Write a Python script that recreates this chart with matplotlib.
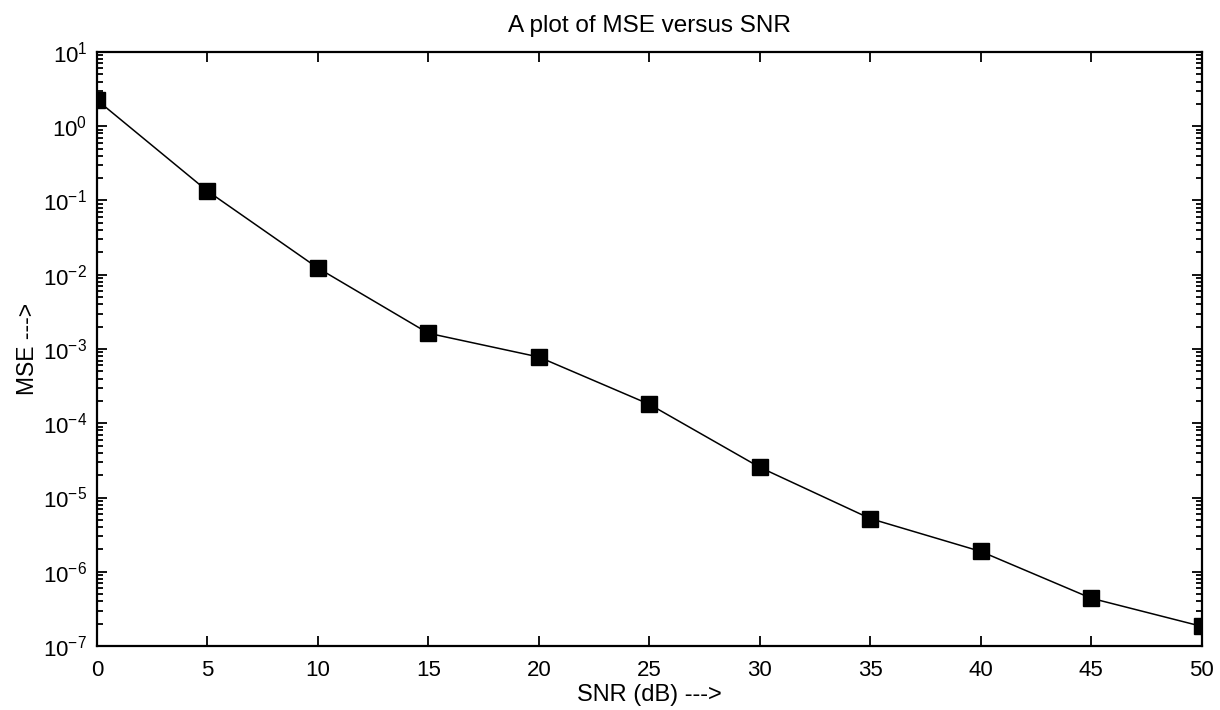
import numpy as np
import matplotlib
matplotlib.use("Agg")
import matplotlib.pyplot as plt

plt.rcParams['font.family'] = ['Liberation Sans', 'DejaVu Sans']
plt.rcParams['mathtext.fontset'] = 'custom'
plt.rcParams['mathtext.rm'] = 'Liberation Sans'
plt.rcParams['mathtext.it'] = 'Liberation Sans'

snr = [0, 5, 10, 15, 20, 25, 30, 35, 40, 45, 50]
mse = [2.25, 0.134, 0.0123, 1.63e-3, 7.8e-4, 1.8e-4, 2.55e-5, 5.2e-6, 1.88e-6, 4.4e-7, 1.84e-7]
xticks = [0, 5, 10, 15, 20, 25, 30, 35, 40, 45, 50]

fig = plt.figure(figsize=(12.2, 7.1), dpi=100)
ax = fig.add_axes([0.0795, 0.0901, 0.9055, 0.8367])

ax.semilogy(snr, mse, color='black', lw=1.1, marker='s', markersize=11,
            markerfacecolor='black', markeredgecolor='black')

ax.set_xlim(0, 50)
ax.set_ylim(1e-7, 1e1)
ax.set_xticks(xticks)
ax.set_yticks([10.0 ** k for k in range(-7, 2)])

for s in ax.spines.values():
    s.set_linewidth(1.6)
ax.tick_params(which='both', direction='in', top=True, right=True, labelsize=16, width=1.3)
ax.tick_params(which='major', length=7)
ax.tick_params(axis='x', which='major', pad=10)
ax.tick_params(axis='y', which='major', pad=7)
ax.tick_params(which='minor', length=4)

ax.set_title('A plot of MSE versus SNR', fontsize=17.5, pad=14.5)
ax.set_xlabel('SNR (dB) --->', fontsize=17, labelpad=2)
ax.set_ylabel('MSE --->', fontsize=16.5, labelpad=3)

fig.savefig('out.png', dpi=100)
